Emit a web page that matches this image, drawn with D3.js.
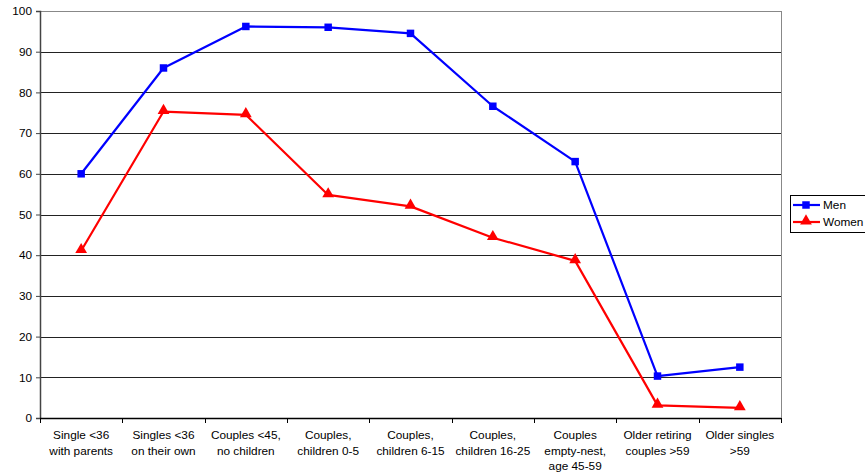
<!DOCTYPE html>
<html>
<head>
<meta charset="utf-8">
<script src="https://cdn.jsdelivr.net/npm/d3@7/dist/d3.min.js"></script>
<style>
  html, body { margin: 0; padding: 0; background: #fff; overflow: hidden; }
  svg { display: block; font-family: "Liberation Sans", Arial, sans-serif; }
</style>
</head>
<body>
<svg id="chart" width="865" height="475"></svg>
<script>
// Household categories (multi-line labels)
const categories = [
  ["Single <36", "with parents"],
  ["Singles <36", "on their own"],
  ["Couples <45,", "no children"],
  ["Couples,", "children 0-5"],
  ["Couples,", "children 6-15"],
  ["Couples,", "children 16-25"],
  ["Couples", "empty-nest,", "age 45-59"],
  ["Older retiring", "couples >59"],
  ["Older singles", ">59"]
];
const menValues   = [60.0, 86.0, 96.2, 96.0, 94.5, 76.6, 63.0, 10.3, 12.5];
const womenValues = [41.1, 75.3, 74.5, 54.8, 52.0, 44.3, 38.6, 3.1, 2.5];
const yTicks = [0, 10, 20, 30, 40, 50, 60, 70, 80, 90, 100];
const seriesNames = ["Men", "Women"];
const seriesColors = ["#0000ff", "#ff0000"];

const fontSize = 11.8;
const svg = d3.select("#chart");
const plotLeft = 40, plotRight = 781, plotTop = 11, plotBottom = 418;

const x = d3.scaleBand().domain(d3.range(categories.length)).range([plotLeft, plotRight]);
const y = d3.scaleLinear().domain([0, 100]).range([plotBottom, plotTop]);

// Horizontal gridlines
svg.append("g").selectAll("line").data(yTicks.filter(d => d > 0)).join("line")
  .attr("x1", plotLeft).attr("x2", plotRight)
  .attr("y1", d => Math.round(y(d)) + 0.5).attr("y2", d => Math.round(y(d)) + 0.5)
  .attr("stroke", d => d === 100 ? "#888" : "#222").attr("stroke-width", 1);

// Right border of plot area
svg.append("line").attr("x1", plotRight + 0.5).attr("x2", plotRight + 0.5)
  .attr("y1", plotTop).attr("y2", plotBottom).attr("stroke", "#888");

// Y axis
const yAxis = svg.append("g").attr("transform", `translate(${plotLeft},0)`)
  .call(d3.axisLeft(y).tickValues(yTicks).tickSize(4).tickPadding(4));
yAxis.select(".domain").attr("stroke", "#444").attr("stroke-width", 1.5);
yAxis.selectAll(".tick line").attr("stroke", "#444");
yAxis.selectAll("text").attr("font-size", fontSize).attr("fill", "#000")
  .attr("font-family", "Liberation Sans, Arial, sans-serif");

// X axis baseline and ticks at category boundaries
svg.append("line").attr("x1", plotLeft).attr("x2", plotRight)
  .attr("y1", plotBottom + 0.5).attr("y2", plotBottom + 0.5).attr("stroke", "#000").attr("stroke-width", 1.5);
const bounds = d3.range(categories.length + 1).map(i => plotLeft + i * x.bandwidth());
svg.append("g").selectAll("line").data(bounds).join("line")
  .attr("x1", d => Math.round(d) + 0.5).attr("x2", d => Math.round(d) + 0.5)
  .attr("y1", plotBottom).attr("y2", plotBottom + 5).attr("stroke", "#000");

// Category labels
const labels = svg.append("g").selectAll("text").data(categories).join("text")
  .attr("x", (d, i) => x(i) + x.bandwidth() / 2)
  .attr("y", 439)
  .attr("text-anchor", "middle").attr("font-size", fontSize).attr("fill", "#000");
labels.selectAll("tspan").data(d => d).join("tspan")
  .attr("x", function() { return d3.select(this.parentNode).attr("x"); })
  .attr("dy", (d, i) => i === 0 ? 0 : 15.5)
  .text(d => d);

// Series lines and markers
const cx = i => x(i) + x.bandwidth() / 2;
const line = d3.line().x((d, i) => cx(i)).y(d => y(d));
const series = [menValues, womenValues];

series.forEach((vals, s) => {
  svg.append("path").datum(vals).attr("d", line)
    .attr("fill", "none").attr("stroke", seriesColors[s]).attr("stroke-width", 2.2)
    .attr("stroke-linejoin", "round");
});

const square = d3.symbol().type(d3.symbolSquare).size(56);
const triangle = d3.symbol().type(d3.symbolTriangle).size(60);
svg.append("g").selectAll("path").data(menValues).join("path")
  .attr("d", square).attr("fill", seriesColors[0])
  .attr("transform", (d, i) => `translate(${cx(i)},${y(d)})`);
svg.append("g").selectAll("path").data(womenValues).join("path")
  .attr("d", triangle).attr("fill", seriesColors[1])
  .attr("transform", (d, i) => `translate(${cx(i)},${y(d) - 1})`);

// Legend
const lg = svg.append("g");
lg.append("rect").attr("x", 790.5).attr("y", 195.5).attr("width", 90).attr("height", 37)
  .attr("fill", "#fff").attr("stroke", "#000");
seriesNames.forEach((name, s) => {
  const ly = 205 + s * 17;
  lg.append("line").attr("x1", 793).attr("x2", 820).attr("y1", ly).attr("y2", ly)
    .attr("stroke", seriesColors[s]).attr("stroke-width", 2.2);
  lg.append("path").attr("d", s === 0 ? square : triangle).attr("fill", seriesColors[s])
    .attr("transform", `translate(806,${s === 0 ? ly : ly - 1})`);
  lg.append("text").attr("x", 823).attr("y", ly + 4).attr("font-size", fontSize).text(name);
});
</script>
</body>
</html>
